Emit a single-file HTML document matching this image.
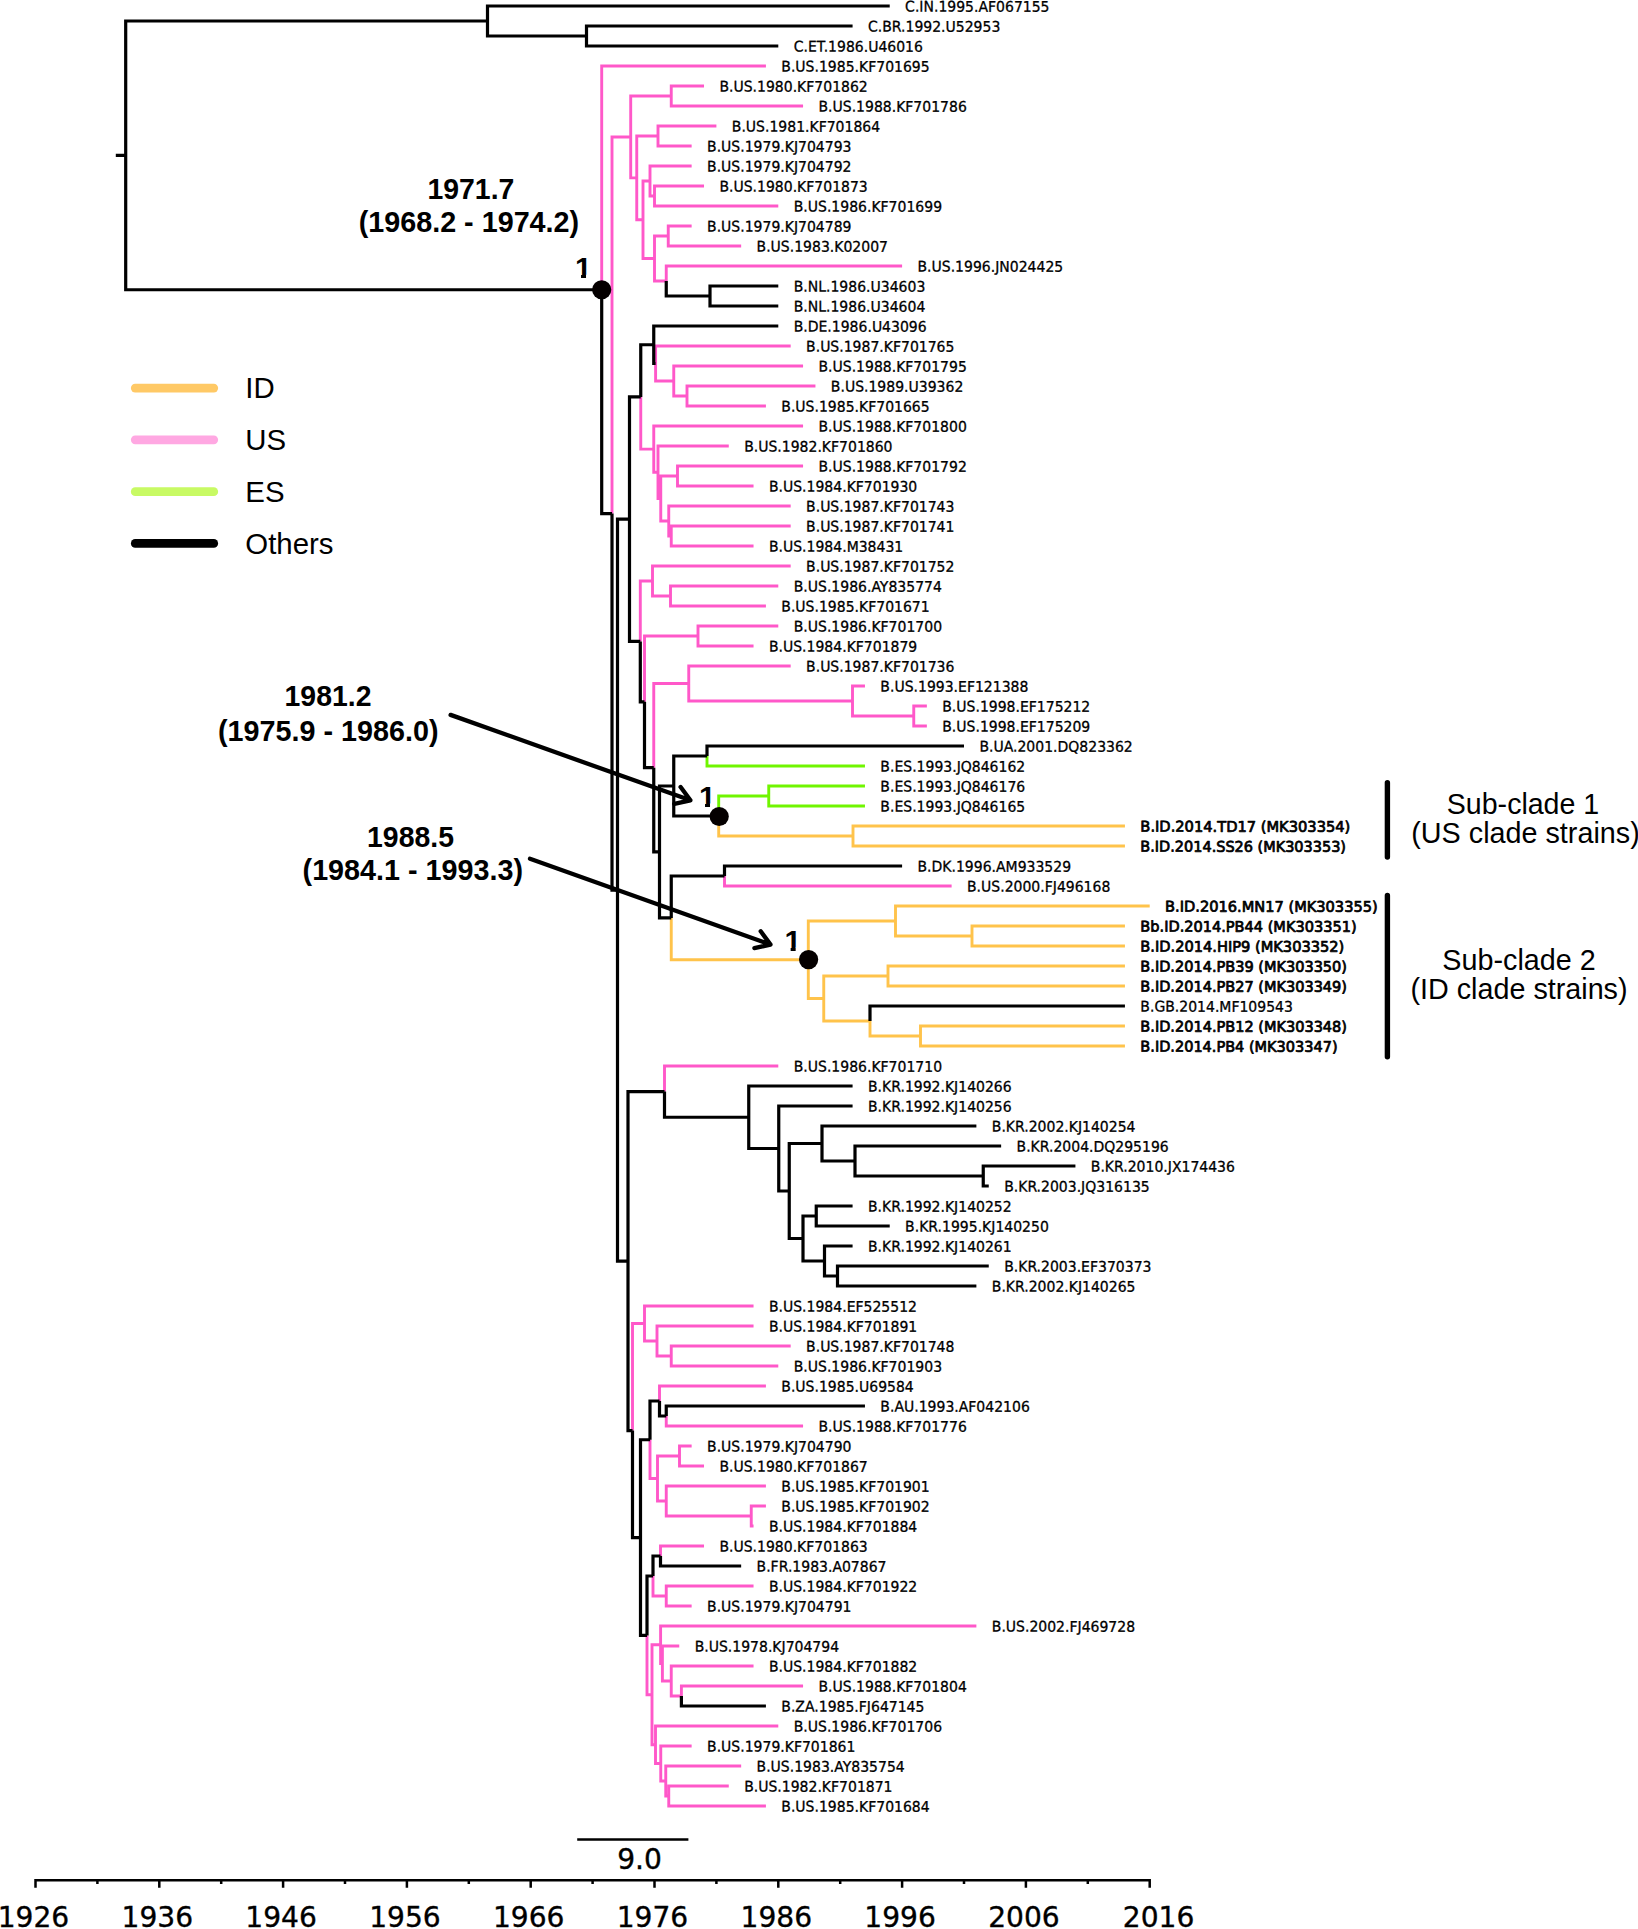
<!DOCTYPE html>
<html lang="en"><head><meta charset="utf-8"><title>Phylogenetic tree</title>
<style>html,body{margin:0;padding:0;background:#fff}body{width:1638px;height:1929px;overflow:hidden}svg{display:block}.t{font-family:"DejaVu Sans","Liberation Sans",sans-serif;font-size:14.7px;fill:#000;stroke:#000;stroke-width:0.3px}.tb{font-family:"DejaVu Sans","Liberation Sans",sans-serif;font-size:14.7px;fill:#000;stroke:#000;stroke-width:0.75px;stroke-linejoin:round}.h{font-family:"Liberation Sans",Arial,Helvetica,sans-serif;fill:#000}.ax{font-family:"DejaVu Sans","Liberation Sans",sans-serif;font-size:28.1px;fill:#000;stroke:#000;stroke-width:0.35px}</style></head><body>
<svg width="1638" height="1929" viewBox="0 0 1638 1929">
<rect width="1638" height="1929" fill="#fff"/>
<path d="M671.25 96V84.55M671.25 86H704.02M671.25 96V107.45M671.25 106H803.06M658 136V124.55M658 126H716.4M658 136V147.45M658 146H691.64M654.5 196V184.55M654.5 186H704.02M654.5 196V207.45M654.5 206H778.3M650 181V164.55M650 166H691.64M650 181V197.45M650 196H654.5M668.25 236V224.55M668.25 226H691.64M668.25 236V247.45M668.25 246H741.16M666.25 281V264.55M666.25 266H902.1M654.5 258.5V234.55M654.5 236H668.25M654.5 258.5V282.45M654.5 281H666.25M643 219.75V179.55M643 181H650M643 219.75V259.95M643 258.5H654.5M636.75 177.88V134.55M636.75 136H658M636.75 177.88V221.2M636.75 219.75H643M630.7 136.94V94.55M630.7 96H671.25M630.7 136.94V179.32M630.7 177.88H636.75M687 396V384.55M687 386H815.44M687 396V407.45M687 406H765.92M673.75 381V364.55M673.75 366H803.06M673.75 381V397.45M673.75 396H687M655.6 363.5V344.55M655.6 346H790.68M655.6 363.5V382.45M655.6 381H673.75M677.5 476V464.55M677.5 466H803.06M677.5 476V487.45M677.5 486H753.54M671.25 536V524.55M671.25 526H790.68M671.25 536V547.45M671.25 546H753.54M668.75 521V504.55M668.75 506H790.68M668.75 521V537.45M668.75 536H671.25M660.75 498.5V474.55M660.75 476H677.5M660.75 498.5V522.45M660.75 521H668.75M658 472.25V444.55M658 446H728.78M658 472.25V499.95M658 498.5H660.75M653.75 449.12V424.55M653.75 426H803.06M653.75 449.12V473.7M653.75 472.25H658M640.75 396.94V450.57M640.75 449.12H653.75M670.5 596V584.55M670.5 586H778.3M670.5 596V607.45M670.5 606H765.92M652.5 581V564.55M652.5 566H790.68M652.5 581V597.45M652.5 596H670.5M698 636V624.55M698 626H778.3M698 636V647.45M698 646H753.54M913.75 716V704.55M913.75 706H926.86M913.75 716V727.45M913.75 726H926.86M852.5 701V684.55M852.5 686H864.96M852.5 701V717.45M852.5 716H913.75M688.75 683.5V664.55M688.75 666H790.68M688.75 683.5V702.45M688.75 701H852.5M724.5 876V887.45M724.5 886H951.62M653.75 767.72V682.05M653.75 683.5H688.75M644.5 701.86V634.55M644.5 636H698M640.3 641.43V579.55M640.3 581H652.5M664.5 1091.62V1064.55M664.5 1066H778.3M671.25 1356V1344.55M671.25 1346H790.68M671.25 1356V1367.45M671.25 1366H778.3M657 1341V1324.55M657 1326H753.54M657 1341V1357.45M657 1356H671.25M644.5 1323.5V1304.55M644.5 1306H753.54M644.5 1323.5V1342.45M644.5 1341H657M666.25 1416V1427.45M666.25 1426H803.06M659.5 1401V1384.55M659.5 1386H765.92M679.5 1456V1444.55M679.5 1446H691.64M679.5 1456V1467.45M679.5 1466H704.02M751.25 1516V1504.55M751.25 1506H765.92M751.25 1516V1527.45M751.25 1526H753.54M666.25 1501V1484.55M666.25 1486H765.92M666.25 1501V1517.45M666.25 1516H751.25M657.5 1478.5V1454.55M657.5 1456H679.5M657.5 1478.5V1502.45M657.5 1501H666.25M650 1439.75V1479.95M650 1478.5H657.5M660.5 1556V1544.55M660.5 1546H704.02M666.25 1596V1584.55M666.25 1586H753.54M666.25 1596V1607.45M666.25 1606H691.64M653 1576V1597.45M653 1596H666.25M681.4 1696V1684.55M681.4 1686H803.06M671.25 1681V1664.55M671.25 1666H753.54M671.25 1681V1697.45M671.25 1696H681.4M662.4 1663.5V1644.55M662.4 1646H679.26M662.4 1663.5V1682.45M662.4 1681H671.25M660.6 1644.75V1624.55M660.6 1626H976.38M660.6 1644.75V1664.95M660.6 1663.5H662.4M668.75 1796V1784.55M668.75 1786H728.78M668.75 1796V1807.45M668.75 1806H765.92M665.75 1781V1764.55M665.75 1766H741.16M665.75 1781V1797.45M665.75 1796H668.75M660.75 1763.5V1744.55M660.75 1746H691.64M660.75 1763.5V1782.45M660.75 1781H665.75M655.5 1744.75V1724.55M655.5 1726H778.3M655.5 1744.75V1764.95M655.5 1763.5H660.75M652 1694.75V1643.3M652 1644.75H660.6M652 1694.75V1746.2M652 1744.75H655.5M647 1635.38V1696.2M647 1694.75H652M632.5 1430.53V1322.05M632.5 1323.5H644.5M612 513.53V135.49M612 136.94H630.7M601.7 289.77V64.55M601.7 66H765.92" fill="none" stroke="#FF58C9" stroke-width="2.9"/>
<path d="M707 756V767.45M707 766H864.96M768.75 796V784.55M768.75 786H864.96M768.75 796V807.45M768.75 806H864.96M718.7 816V794.55M718.7 796H768.75" fill="none" stroke="#70F500" stroke-width="2.9"/>
<path d="M853 836V824.55M853 826H1124.94M853 836V847.45M853 846H1124.94M718.7 816V837.45M718.7 836H853M972 936V924.55M972 926H1124.94M972 936V947.45M972 946H1124.94M895.5 921V904.55M895.5 906H1149.7M895.5 921V937.45M895.5 936H972M888 976V964.55M888 966H1124.94M888 976V987.45M888 986H1124.94M920.5 1036V1024.55M920.5 1026H1124.94M920.5 1036V1047.45M920.5 1046H1124.94M870 1021V1037.45M870 1036H920.5M823.75 998.5V974.55M823.75 976H888M823.75 998.5V1022.45M823.75 1021H870M808.3 959.75V919.55M808.3 921H895.5M808.3 959.75V999.95M808.3 998.5H823.75M671.25 917.88V961.2M671.25 959.75H808.3" fill="none" stroke="#FFC34B" stroke-width="2.9"/>
<path d="M586.5 36V24.4M586.5 26H852.58M586.5 36V47.6M586.5 46H778.3M487.5 21V4.4M487.5 6H889.72M487.5 21V37.6M487.5 36H586.5M710 296V284.4M710 286H778.3M710 296V307.6M710 306H778.3M666.25 281V297.6M666.25 296H710M653.75 344.75V324.4M653.75 326H778.3M653.75 344.75V365.1M653.75 363.5H655.6M640.75 396.94V343.15M640.75 344.75H653.75M707 756V744.4M707 746H964M673.75 786V754.4M673.75 756H707M673.75 786V817.6M673.75 816H718.7M724.5 876V864.4M724.5 866H902.1M870 1021V1004.4M870 1006H1124.94M671.25 917.88V874.4M671.25 876H724.5M659.5 851.94V784.4M659.5 786H673.75M659.5 851.94V919.48M659.5 917.88H671.25M653.75 767.72V853.54M653.75 851.94H659.5M644.5 701.86V769.32M644.5 767.72H653.75M640.3 641.43V703.46M640.3 701.86H644.5M629.5 519.18V395.34M629.5 396.94H640.75M629.5 519.18V643.03M629.5 641.43H640.3M983.25 1176V1164.4M983.25 1166H1075.42M983.25 1176V1187.6M983.25 1186H988.76M855 1161V1144.4M855 1146H1001.14M855 1161V1177.6M855 1176H983.25M822 1143.5V1124.4M822 1126H976.38M822 1143.5V1162.6M822 1161H855M816.25 1216V1204.4M816.25 1206H852.58M816.25 1216V1227.6M816.25 1226H889.72M837.5 1276V1264.4M837.5 1266H988.76M837.5 1276V1287.6M837.5 1286H976.38M824.5 1261V1244.4M824.5 1246H852.58M824.5 1261V1277.6M824.5 1276H837.5M803 1238.5V1214.4M803 1216H816.25M803 1238.5V1262.6M803 1261H824.5M789.25 1191V1141.9M789.25 1143.5H822M789.25 1191V1240.1M789.25 1238.5H803M778.75 1148.5V1104.4M778.75 1106H852.58M778.75 1148.5V1192.6M778.75 1191H789.25M748.75 1117.25V1084.4M748.75 1086H852.58M748.75 1117.25V1150.1M748.75 1148.5H778.75M664.5 1091.62V1118.85M664.5 1117.25H748.75M666.25 1416V1404.4M666.25 1406H864.96M659.5 1401V1417.6M659.5 1416H666.25M650 1439.75V1399.4M650 1401H659.5M660.5 1556V1567.6M660.5 1566H741.16M653 1576V1554.4M653 1556H660.5M681.4 1696V1707.6M681.4 1706H765.92M647 1635.38V1574.4M647 1576H653M640.5 1537.56V1438.15M640.5 1439.75H650M640.5 1537.56V1636.97M640.5 1635.38H647M632.5 1430.53V1539.16M632.5 1537.56H640.5M628 1261.08V1090.03M628 1091.62H664.5M628 1261.08V1432.13M628 1430.53H632.5M617.5 890.13V517.58M617.5 519.18H629.5M617.5 890.13V1262.68M617.5 1261.08H628M612 513.53V891.73M612 890.13H617.5M601.7 289.77V515.13M601.7 513.53H612M125.7 155.38V19.4M125.7 21H487.5M125.7 155.38V291.37M125.7 289.77H601.7M115.8 155.38H125.7" fill="none" stroke="#000000" stroke-width="3.2"/>
<circle cx="601.7" cy="289.75" r="9.6" fill="#050000"/>
<circle cx="719.2" cy="816.5" r="9.6" fill="#050000"/>
<circle cx="808.6" cy="959.6" r="9.6" fill="#050000"/>
<text class="t" transform="translate(905.12 11.6) rotate(0.03) scale(0.953 1)">C.IN.1995.AF067155</text>
<text class="t" transform="translate(867.98 31.6) rotate(0.03) scale(0.953 1)">C.BR.1992.U52953</text>
<text class="t" transform="translate(793.7 51.6) rotate(0.03) scale(0.953 1)">C.ET.1986.U46016</text>
<text class="t" transform="translate(781.32 71.6) rotate(0.03) scale(0.953 1)">B.US.1985.KF701695</text>
<text class="t" transform="translate(719.42 91.6) rotate(0.03) scale(0.953 1)">B.US.1980.KF701862</text>
<text class="t" transform="translate(818.46 111.6) rotate(0.03) scale(0.953 1)">B.US.1988.KF701786</text>
<text class="t" transform="translate(731.8 131.6) rotate(0.03) scale(0.953 1)">B.US.1981.KF701864</text>
<text class="t" transform="translate(707.04 151.6) rotate(0.03) scale(0.953 1)">B.US.1979.KJ704793</text>
<text class="t" transform="translate(707.04 171.6) rotate(0.03) scale(0.953 1)">B.US.1979.KJ704792</text>
<text class="t" transform="translate(719.42 191.6) rotate(0.03) scale(0.953 1)">B.US.1980.KF701873</text>
<text class="t" transform="translate(793.7 211.6) rotate(0.03) scale(0.953 1)">B.US.1986.KF701699</text>
<text class="t" transform="translate(707.04 231.6) rotate(0.03) scale(0.953 1)">B.US.1979.KJ704789</text>
<text class="t" transform="translate(756.56 251.6) rotate(0.03) scale(0.953 1)">B.US.1983.K02007</text>
<text class="t" transform="translate(917.5 271.6) rotate(0.03) scale(0.953 1)">B.US.1996.JN024425</text>
<text class="t" transform="translate(793.7 291.6) rotate(0.03) scale(0.953 1)">B.NL.1986.U34603</text>
<text class="t" transform="translate(793.7 311.6) rotate(0.03) scale(0.953 1)">B.NL.1986.U34604</text>
<text class="t" transform="translate(793.7 331.6) rotate(0.03) scale(0.953 1)">B.DE.1986.U43096</text>
<text class="t" transform="translate(806.08 351.6) rotate(0.03) scale(0.953 1)">B.US.1987.KF701765</text>
<text class="t" transform="translate(818.46 371.6) rotate(0.03) scale(0.953 1)">B.US.1988.KF701795</text>
<text class="t" transform="translate(830.84 391.6) rotate(0.03) scale(0.953 1)">B.US.1989.U39362</text>
<text class="t" transform="translate(781.32 411.6) rotate(0.03) scale(0.953 1)">B.US.1985.KF701665</text>
<text class="t" transform="translate(818.46 431.6) rotate(0.03) scale(0.953 1)">B.US.1988.KF701800</text>
<text class="t" transform="translate(744.18 451.6) rotate(0.03) scale(0.953 1)">B.US.1982.KF701860</text>
<text class="t" transform="translate(818.46 471.6) rotate(0.03) scale(0.953 1)">B.US.1988.KF701792</text>
<text class="t" transform="translate(768.94 491.6) rotate(0.03) scale(0.953 1)">B.US.1984.KF701930</text>
<text class="t" transform="translate(806.08 511.6) rotate(0.03) scale(0.953 1)">B.US.1987.KF701743</text>
<text class="t" transform="translate(806.08 531.6) rotate(0.03) scale(0.953 1)">B.US.1987.KF701741</text>
<text class="t" transform="translate(768.94 551.6) rotate(0.03) scale(0.953 1)">B.US.1984.M38431</text>
<text class="t" transform="translate(806.08 571.6) rotate(0.03) scale(0.953 1)">B.US.1987.KF701752</text>
<text class="t" transform="translate(793.7 591.6) rotate(0.03) scale(0.953 1)">B.US.1986.AY835774</text>
<text class="t" transform="translate(781.32 611.6) rotate(0.03) scale(0.953 1)">B.US.1985.KF701671</text>
<text class="t" transform="translate(793.7 631.6) rotate(0.03) scale(0.953 1)">B.US.1986.KF701700</text>
<text class="t" transform="translate(768.94 651.6) rotate(0.03) scale(0.953 1)">B.US.1984.KF701879</text>
<text class="t" transform="translate(806.08 671.6) rotate(0.03) scale(0.953 1)">B.US.1987.KF701736</text>
<text class="t" transform="translate(880.36 691.6) rotate(0.03) scale(0.953 1)">B.US.1993.EF121388</text>
<text class="t" transform="translate(942.26 711.6) rotate(0.03) scale(0.953 1)">B.US.1998.EF175212</text>
<text class="t" transform="translate(942.26 731.6) rotate(0.03) scale(0.953 1)">B.US.1998.EF175209</text>
<text class="t" transform="translate(979.4 751.6) rotate(0.03) scale(0.953 1)">B.UA.2001.DQ823362</text>
<text class="t" transform="translate(880.36 771.6) rotate(0.03) scale(0.953 1)">B.ES.1993.JQ846162</text>
<text class="t" transform="translate(880.36 791.6) rotate(0.03) scale(0.953 1)">B.ES.1993.JQ846176</text>
<text class="t" transform="translate(880.36 811.6) rotate(0.03) scale(0.953 1)">B.ES.1993.JQ846165</text>
<text class="tb" transform="translate(1140.34 831.6) rotate(0.03)" textLength="209.96" lengthAdjust="spacingAndGlyphs">B.ID.2014.TD17 (MK303354)</text>
<text class="tb" transform="translate(1140.34 851.6) rotate(0.03)" textLength="205.66" lengthAdjust="spacingAndGlyphs">B.ID.2014.SS26 (MK303353)</text>
<text class="t" transform="translate(917.5 871.6) rotate(0.03) scale(0.953 1)">B.DK.1996.AM933529</text>
<text class="t" transform="translate(967.02 891.6) rotate(0.03) scale(0.953 1)">B.US.2000.FJ496168</text>
<text class="tb" transform="translate(1165.1 911.6) rotate(0.03)" textLength="212.6" lengthAdjust="spacingAndGlyphs">B.ID.2016.MN17 (MK303355)</text>
<text class="tb" transform="translate(1140.34 931.6) rotate(0.03)" textLength="216.26" lengthAdjust="spacingAndGlyphs">Bb.ID.2014.PB44 (MK303351)</text>
<text class="tb" transform="translate(1140.34 951.6) rotate(0.03)" textLength="203.96" lengthAdjust="spacingAndGlyphs">B.ID.2014.HIP9 (MK303352)</text>
<text class="tb" transform="translate(1140.34 971.6) rotate(0.03)" textLength="206.66" lengthAdjust="spacingAndGlyphs">B.ID.2014.PB39 (MK303350)</text>
<text class="tb" transform="translate(1140.34 991.6) rotate(0.03)" textLength="206.66" lengthAdjust="spacingAndGlyphs">B.ID.2014.PB27 (MK303349)</text>
<text class="t" transform="translate(1140.34 1011.6) rotate(0.03) scale(0.953 1)">B.GB.2014.MF109543</text>
<text class="tb" transform="translate(1140.34 1031.6) rotate(0.03)" textLength="206.66" lengthAdjust="spacingAndGlyphs">B.ID.2014.PB12 (MK303348)</text>
<text class="tb" transform="translate(1140.34 1051.6) rotate(0.03)" textLength="197.26" lengthAdjust="spacingAndGlyphs">B.ID.2014.PB4 (MK303347)</text>
<text class="t" transform="translate(793.7 1071.6) rotate(0.03) scale(0.953 1)">B.US.1986.KF701710</text>
<text class="t" transform="translate(867.98 1091.6) rotate(0.03) scale(0.953 1)">B.KR.1992.KJ140266</text>
<text class="t" transform="translate(867.98 1111.6) rotate(0.03) scale(0.953 1)">B.KR.1992.KJ140256</text>
<text class="t" transform="translate(991.78 1131.6) rotate(0.03) scale(0.953 1)">B.KR.2002.KJ140254</text>
<text class="t" transform="translate(1016.54 1151.6) rotate(0.03) scale(0.953 1)">B.KR.2004.DQ295196</text>
<text class="t" transform="translate(1090.82 1171.6) rotate(0.03) scale(0.953 1)">B.KR.2010.JX174436</text>
<text class="t" transform="translate(1004.16 1191.6) rotate(0.03) scale(0.953 1)">B.KR.2003.JQ316135</text>
<text class="t" transform="translate(867.98 1211.6) rotate(0.03) scale(0.953 1)">B.KR.1992.KJ140252</text>
<text class="t" transform="translate(905.12 1231.6) rotate(0.03) scale(0.953 1)">B.KR.1995.KJ140250</text>
<text class="t" transform="translate(867.98 1251.6) rotate(0.03) scale(0.953 1)">B.KR.1992.KJ140261</text>
<text class="t" transform="translate(1004.16 1271.6) rotate(0.03) scale(0.953 1)">B.KR.2003.EF370373</text>
<text class="t" transform="translate(991.78 1291.6) rotate(0.03) scale(0.953 1)">B.KR.2002.KJ140265</text>
<text class="t" transform="translate(768.94 1311.6) rotate(0.03) scale(0.953 1)">B.US.1984.EF525512</text>
<text class="t" transform="translate(768.94 1331.6) rotate(0.03) scale(0.953 1)">B.US.1984.KF701891</text>
<text class="t" transform="translate(806.08 1351.6) rotate(0.03) scale(0.953 1)">B.US.1987.KF701748</text>
<text class="t" transform="translate(793.7 1371.6) rotate(0.03) scale(0.953 1)">B.US.1986.KF701903</text>
<text class="t" transform="translate(781.32 1391.6) rotate(0.03) scale(0.953 1)">B.US.1985.U69584</text>
<text class="t" transform="translate(880.36 1411.6) rotate(0.03) scale(0.953 1)">B.AU.1993.AF042106</text>
<text class="t" transform="translate(818.46 1431.6) rotate(0.03) scale(0.953 1)">B.US.1988.KF701776</text>
<text class="t" transform="translate(707.04 1451.6) rotate(0.03) scale(0.953 1)">B.US.1979.KJ704790</text>
<text class="t" transform="translate(719.42 1471.6) rotate(0.03) scale(0.953 1)">B.US.1980.KF701867</text>
<text class="t" transform="translate(781.32 1491.6) rotate(0.03) scale(0.953 1)">B.US.1985.KF701901</text>
<text class="t" transform="translate(781.32 1511.6) rotate(0.03) scale(0.953 1)">B.US.1985.KF701902</text>
<text class="t" transform="translate(768.94 1531.6) rotate(0.03) scale(0.953 1)">B.US.1984.KF701884</text>
<text class="t" transform="translate(719.42 1551.6) rotate(0.03) scale(0.953 1)">B.US.1980.KF701863</text>
<text class="t" transform="translate(756.56 1571.6) rotate(0.03) scale(0.953 1)">B.FR.1983.A07867</text>
<text class="t" transform="translate(768.94 1591.6) rotate(0.03) scale(0.953 1)">B.US.1984.KF701922</text>
<text class="t" transform="translate(707.04 1611.6) rotate(0.03) scale(0.953 1)">B.US.1979.KJ704791</text>
<text class="t" transform="translate(991.78 1631.6) rotate(0.03) scale(0.953 1)">B.US.2002.FJ469728</text>
<text class="t" transform="translate(694.66 1651.6) rotate(0.03) scale(0.953 1)">B.US.1978.KJ704794</text>
<text class="t" transform="translate(768.94 1671.6) rotate(0.03) scale(0.953 1)">B.US.1984.KF701882</text>
<text class="t" transform="translate(818.46 1691.6) rotate(0.03) scale(0.953 1)">B.US.1988.KF701804</text>
<text class="t" transform="translate(781.32 1711.6) rotate(0.03) scale(0.953 1)">B.ZA.1985.FJ647145</text>
<text class="t" transform="translate(793.7 1731.6) rotate(0.03) scale(0.953 1)">B.US.1986.KF701706</text>
<text class="t" transform="translate(707.04 1751.6) rotate(0.03) scale(0.953 1)">B.US.1979.KF701861</text>
<text class="t" transform="translate(756.56 1771.6) rotate(0.03) scale(0.953 1)">B.US.1983.AY835754</text>
<text class="t" transform="translate(744.18 1791.6) rotate(0.03) scale(0.953 1)">B.US.1982.KF701871</text>
<text class="t" transform="translate(781.32 1811.6) rotate(0.03) scale(0.953 1)">B.US.1985.KF701684</text>
<text class="h" transform="translate(470.9 198.5) scale(0.957 1)" font-size="29.7" font-weight="bold" text-anchor="middle">1971.7</text>
<text class="h" transform="translate(468.9 232) scale(0.968 1)" font-size="29.7" font-weight="bold" text-anchor="middle">(1968.2 - 1974.2)</text>
<text class="h" transform="translate(328 706.1) scale(0.957 1)" font-size="29.7" font-weight="bold" text-anchor="middle">1981.2</text>
<text class="h" transform="translate(328.2 740.9) scale(0.968 1)" font-size="29.7" font-weight="bold" text-anchor="middle">(1975.9 - 1986.0)</text>
<text class="h" transform="translate(410.5 847.3) scale(0.957 1)" font-size="29.7" font-weight="bold" text-anchor="middle">1988.5</text>
<text class="h" transform="translate(412.8 879.6) scale(0.968 1)" font-size="29.7" font-weight="bold" text-anchor="middle">(1984.1 - 1993.3)</text>
<clipPath id="c10"><rect x="573.3" y="251" width="20" height="23.7"/><rect x="581.05" y="274.6" width="5" height="5"/></clipPath>
<text class="h" x="583.3" y="278" font-size="30" font-weight="bold" text-anchor="middle" clip-path="url(#c10)">1</text>
<clipPath id="c11"><rect x="697.3" y="779.7" width="20" height="23.7"/><rect x="705.05" y="803.3" width="5" height="5"/></clipPath>
<text class="h" x="707.3" y="806.7" font-size="30" font-weight="bold" text-anchor="middle" clip-path="url(#c11)">1</text>
<clipPath id="c12"><rect x="782.9" y="923.7" width="20" height="23.7"/><rect x="790.65" y="947.3" width="5" height="5"/></clipPath>
<text class="h" x="792.9" y="950.7" font-size="30" font-weight="bold" text-anchor="middle" clip-path="url(#c12)">1</text>
<path d="M450.6 714.9L690.4 800.3M674.28 803.84L690.4 800.3L680.61 787.02" fill="none" stroke="#000" stroke-width="4.3" stroke-linecap="round" stroke-linejoin="round"/>
<path d="M530 858.8L770.5 944.6M754.38 948.13L770.5 944.6L760.72 931.31" fill="none" stroke="#000" stroke-width="4.3" stroke-linecap="round" stroke-linejoin="round"/>
<path d="M135.2 388.1H213.8" stroke="#FFC966" stroke-width="8.6" stroke-linecap="round" fill="none"/>
<text class="h" x="245.3" y="398.4" font-size="29.4" text-anchor="start">ID</text>
<path d="M135.2 439.87H213.8" stroke="#FFA8E2" stroke-width="8.6" stroke-linecap="round" fill="none"/>
<text class="h" x="245.3" y="450.17" font-size="29.4" text-anchor="start">US</text>
<path d="M135.2 491.64H213.8" stroke="#C8FA64" stroke-width="8.6" stroke-linecap="round" fill="none"/>
<text class="h" x="245.3" y="501.94" font-size="29.4" text-anchor="start">ES</text>
<path d="M135.2 543.41H213.8" stroke="#000" stroke-width="8.6" stroke-linecap="round" fill="none"/>
<text class="h" x="245.3" y="553.71" font-size="29.4" text-anchor="start">Others</text>
<path d="M1387.4 782.6V857M1387.4 895.4V1056.8" stroke="#000" stroke-width="5.4" stroke-linecap="round" fill="none"/>
<text class="h" transform="translate(1523 814) scale(0.978 1)" font-size="29.2" text-anchor="middle">Sub-clade 1</text>
<text class="h" transform="translate(1525.5 842.9) scale(0.985 1)" font-size="29.2" text-anchor="middle">(US clade strains)</text>
<text class="h" transform="translate(1519 969.6) scale(0.984 1)" font-size="29.2" text-anchor="middle">Sub-clade 2</text>
<text class="h" transform="translate(1519 998.6) scale(0.984 1)" font-size="29.2" text-anchor="middle">(ID clade strains)</text>
<path d="M577.2 1839.5H688.4" stroke="#000" stroke-width="2.6" fill="none"/>
<text class="ax" x="639.6" y="1869" text-anchor="middle" font-size="28.6">9.0</text>
<path d="M35.5 1880.3H1149.7M35.5 1879.1V1887.8M159.3 1879.1V1887.8M283.1 1879.1V1887.8M406.9 1879.1V1887.8M530.7 1879.1V1887.8M654.5 1879.1V1887.8M778.3 1879.1V1887.8M902.1 1879.1V1887.8M1025.9 1879.1V1887.8M1149.7 1879.1V1887.8M97.4 1879.1V1884M221.2 1879.1V1884M345 1879.1V1884M468.8 1879.1V1884M592.6 1879.1V1884M716.4 1879.1V1884M840.2 1879.1V1884M964 1879.1V1884M1087.8 1879.1V1884" stroke="#000" stroke-width="2.5" fill="none"/>
<text class="ax" x="33.5" y="1927" text-anchor="middle">1926</text>
<text class="ax" x="157.3" y="1927" text-anchor="middle">1936</text>
<text class="ax" x="281.1" y="1927" text-anchor="middle">1946</text>
<text class="ax" x="404.9" y="1927" text-anchor="middle">1956</text>
<text class="ax" x="528.7" y="1927" text-anchor="middle">1966</text>
<text class="ax" x="652.5" y="1927" text-anchor="middle">1976</text>
<text class="ax" x="776.3" y="1927" text-anchor="middle">1986</text>
<text class="ax" x="900.1" y="1927" text-anchor="middle">1996</text>
<text class="ax" x="1023.9" y="1927" text-anchor="middle">2006</text>
<text class="ax" x="1158.6" y="1927" text-anchor="middle">2016</text>
</svg></body></html>
